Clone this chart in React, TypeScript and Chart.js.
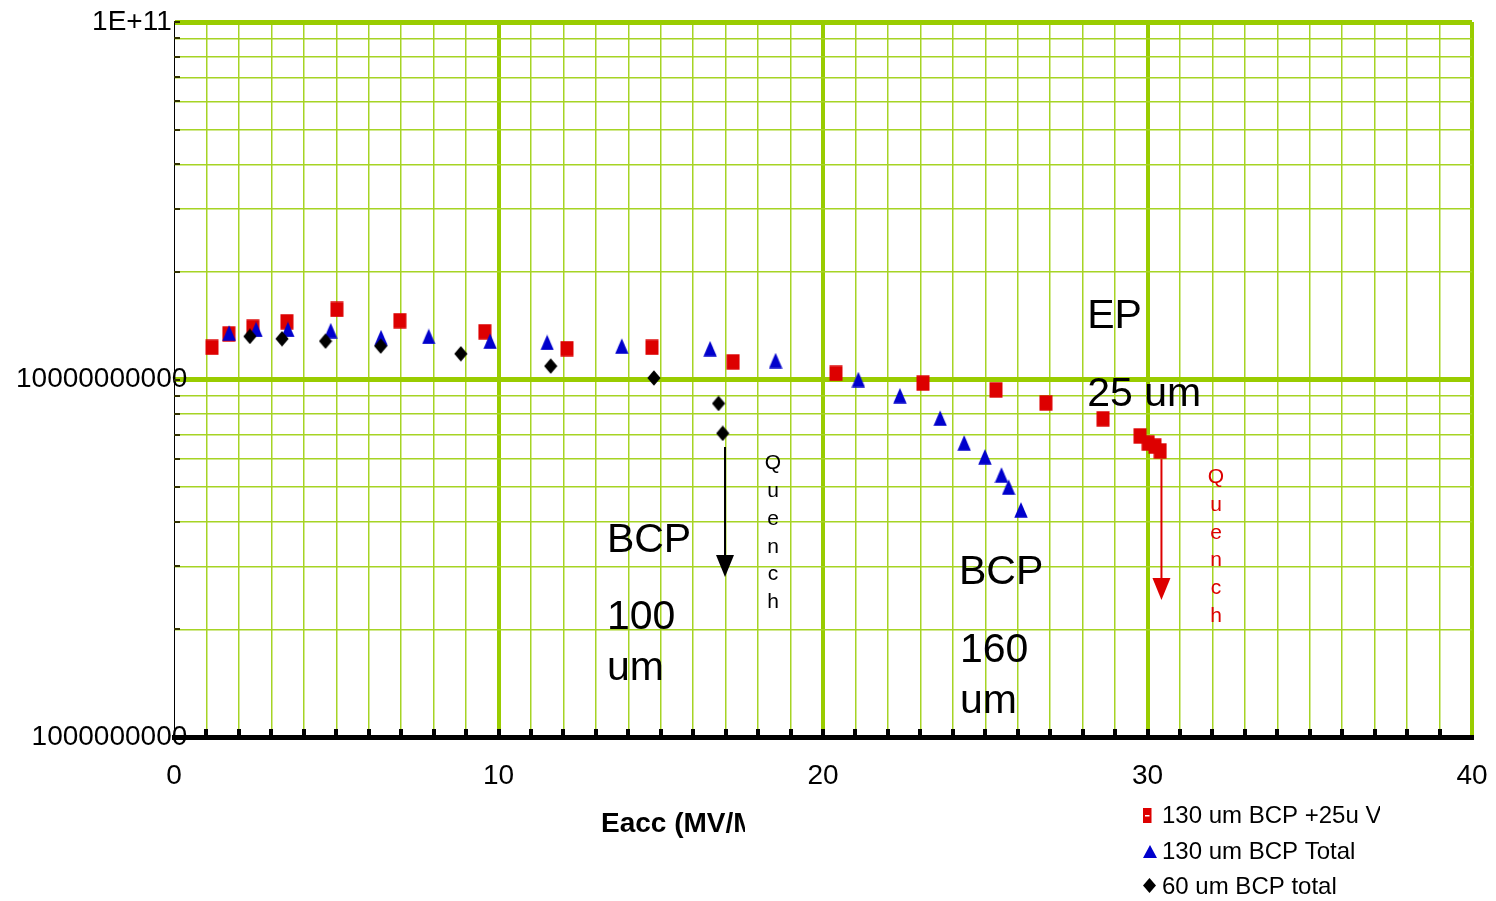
import React, { useEffect, useRef } from 'react';
import { Chart, registerables } from 'chart.js';

Chart.register(...registerables);

const FONT = '"Liberation Sans", Arial, sans-serif';

// Data (Eacc in MV/m, Q0)
const redX = [1.17, 1.69, 2.43, 3.48, 5.02, 6.96, 9.58, 12.11, 14.73, 17.23, 20.40, 23.08, 25.33, 26.87, 28.63, 29.77, 30.02, 30.23, 30.39];
const redY = [1.23e10, 1.34e10, 1.40e10, 1.45e10, 1.57e10, 1.46e10, 1.36e10, 1.22e10, 1.23e10, 1.12e10, 1.04e10, 9.77e9, 9.35e9, 8.60e9, 7.76e9, 6.95e9, 6.64e9, 6.51e9, 6.31e9];
const blueX = [1.70, 2.53, 3.51, 4.83, 6.38, 7.85, 9.74, 11.50, 13.80, 16.52, 18.54, 21.09, 22.37, 23.61, 24.35, 24.99, 25.50, 25.72, 26.10];
const blueY = [1.35e10, 1.38e10, 1.38e10, 1.37e10, 1.31e10, 1.32e10, 1.28e10, 1.27e10, 1.24e10, 1.22e10, 1.13e10, 1.00e10, 9.01e9, 7.80e9, 6.65e9, 6.08e9, 5.41e9, 5.00e9, 4.32e9];
const blackX = [2.34, 3.33, 4.67, 6.37, 8.84, 11.61, 14.79, 16.78, 16.91];
const blackY = [1.32e10, 1.30e10, 1.28e10, 1.24e10, 1.18e10, 1.09e10, 1.01e10, 8.57e9, 7.07e9];

const seriesNames = ['130 um BCP +25u VEP', '130 um BCP Total', '60 um BCP total'];
const xTitle = 'Eacc (MV/M)';
const yMajorValues = [1e11, 1e10, 1e9];
const yMajorLabels = ['1E+11  ', '10000000000', '1000000000'];

const yTickValues: number[] = [];
for (let e = 9; e <= 10; e++) for (let m = 1; m <= 9; m++) yTickValues.push(m * Math.pow(10, e));
yTickValues.push(1e11);

// Annotations in data coordinates
const notes = [
  { text: 'EP', x: 28.14, y: 1.393e10 },
  { text: '25 um', x: 28.14, y: 8.43e9 },
  { text: 'BCP', x: 13.34, y: 3.293e9 },
  { text: '100', x: 13.34, y: 2.005e9 },
  { text: 'um', x: 13.34, y: 1.44e9 },
  { text: 'BCP', x: 24.19, y: 2.68e9 },
  { text: '160', x: 24.22, y: 1.62e9 },
  { text: 'um', x: 24.22, y: 1.167e9 },
];
const quenches = [
  { x: 18.46, y: 5.84e9, color: '#000000' },
  { x: 32.11, y: 5.34e9, color: '#dd0000' },
];
const arrows = [
  { x: 16.98, y0: 6.475e9, y1: 2.804e9, color: '#000000' },
  { x: 30.43, y0: 5.99e9, y1: 2.416e9, color: '#dd0000' },
];

const RED = '#dd0000';
const BLUE = '#0000cc';
const BLACK = '#000000';
const GREEN = '#99cc00';
const GREEN_MINOR = '#a6d424';

const majorLabel = (v: number) => {
  for (let i = 0; i < yMajorValues.length; i++) {
    if (Math.abs(v / yMajorValues[i] - 1) < 1e-6) return yMajorLabels[i];
  }
  return '';
};

function makeMarker(kind: 'square' | 'triangle' | 'diamond', color: string): HTMLCanvasElement {
  const c = document.createElement('canvas');
  c.width = 14;
  c.height = 16;
  const g = c.getContext('2d')!;
  g.fillStyle = color;
  g.beginPath();
  if (kind === 'square') {
    g.rect(0.5, 0.3, 13, 15.4);
  } else if (kind === 'triangle') {
    g.moveTo(7, 0.2);
    g.lineTo(13.7, 15.8);
    g.lineTo(0.3, 15.8);
    g.closePath();
  } else {
    g.moveTo(7, 0.2);
    g.lineTo(13.6, 8);
    g.lineTo(7, 15.8);
    g.lineTo(0.4, 8);
    g.closePath();
  }
  g.fill();
  return c;
}

const overlay = {
  id: 'overlay',
  afterDraw(chart: any) {
    const ctx = chart.ctx as CanvasRenderingContext2D;
    const xs = chart.scales.x;
    const ys = chart.scales.y;
    const { left, bottom } = chart.chartArea;
    ctx.save();
    // inward tick marks
    ctx.fillStyle = '#000';
    for (let v = 1; v < 40; v++) {
      const px = Math.round(xs.getPixelForValue(v));
      ctx.fillRect(px - 2, bottom - 8, 4, 8);
    }
    ctx.fillStyle = '#333300';
    for (const t of yTickValues) {
      if (t === 1e9) continue;
      const py = Math.round(ys.getPixelForValue(t));
      ctx.fillRect(left, py - 1, 6, 2);
    }
    // big annotations
    ctx.fillStyle = '#000';
    ctx.font = `41px ${FONT}`;
    ctx.textAlign = 'left';
    ctx.textBaseline = 'alphabetic';
    for (const n of notes) ctx.fillText(n.text, xs.getPixelForValue(n.x), ys.getPixelForValue(n.y));
    // Quench vertical text
    ctx.font = `21px ${FONT}`;
    ctx.textAlign = 'center';
    ctx.textBaseline = 'middle';
    for (const q of quenches) {
      ctx.fillStyle = q.color;
      const px = xs.getPixelForValue(q.x);
      const py = ys.getPixelForValue(q.y);
      'Quench'.split('').forEach((ch, i) => ctx.fillText(ch, px, py + i * 27.9));
    }
    // arrows
    for (const a of arrows) {
      const px = xs.getPixelForValue(a.x);
      const p0 = ys.getPixelForValue(a.y0);
      const p1 = ys.getPixelForValue(a.y1);
      ctx.strokeStyle = a.color;
      ctx.fillStyle = a.color;
      ctx.lineWidth = 2;
      ctx.beginPath();
      ctx.moveTo(px, p0);
      ctx.lineTo(px, p1 - 20);
      ctx.stroke();
      ctx.beginPath();
      ctx.moveTo(px - 9, p1 - 22);
      ctx.lineTo(px + 9, p1 - 22);
      ctx.lineTo(px, p1);
      ctx.closePath();
      ctx.fill();
    }
    // x axis title (clipped)
    ctx.save();
    ctx.beginPath();
    ctx.rect(0, 790, 745, 60);
    ctx.clip();
    ctx.fillStyle = '#000';
    ctx.font = `bold 28px ${FONT}`;
    ctx.textAlign = 'left';
    ctx.textBaseline = 'alphabetic';
    ctx.fillText(xTitle, 601, 832);
    ctx.restore();
    // legend (clipped)
    ctx.save();
    ctx.beginPath();
    ctx.rect(1120, 790, 260, 111);
    ctx.clip();
    ctx.font = `24px ${FONT}`;
    ctx.textAlign = 'left';
    ctx.textBaseline = 'alphabetic';
    const baselines = [823, 858.5, 894];
    ctx.fillStyle = RED;
    ctx.fillRect(1143, 808, 8.5, 15);
    ctx.fillStyle = '#fff';
    ctx.fillRect(1145, 815, 4.5, 1.5);
    ctx.fillStyle = BLUE;
    ctx.beginPath();
    ctx.moveTo(1150, 845);
    ctx.lineTo(1157, 858);
    ctx.lineTo(1143, 858);
    ctx.closePath();
    ctx.fill();
    ctx.fillStyle = BLACK;
    ctx.beginPath();
    ctx.moveTo(1149.5, 878);
    ctx.lineTo(1156, 885.5);
    ctx.lineTo(1149.5, 893);
    ctx.lineTo(1143, 885.5);
    ctx.closePath();
    ctx.fill();
    ctx.fillStyle = '#000';
    seriesNames.forEach((s, i) => ctx.fillText(s, 1162, baselines[i]));
    ctx.restore();
    ctx.restore();
  },
};

export default function App() {
  const ref = useRef<HTMLCanvasElement>(null);
  useEffect(() => {
    if (!ref.current) return;
    Chart.defaults.font.family = FONT;
    const toPts = (xs: number[], ys: number[]) => xs.map((x, i) => ({ x, y: ys[i] }));
    const chart = new Chart(ref.current, {
      type: 'scatter',
      data: {
        datasets: [
          { label: seriesNames[2], data: toPts(blackX, blackY), pointStyle: makeMarker('diamond', BLACK), pointRadius: 8, backgroundColor: BLACK, borderColor: BLACK },
          { label: seriesNames[1], data: toPts(blueX, blueY), pointStyle: makeMarker('triangle', BLUE), pointRadius: 8, backgroundColor: BLUE, borderColor: BLUE },
          { label: seriesNames[0], data: toPts(redX, redY), pointStyle: makeMarker('square', RED), pointRadius: 8, backgroundColor: RED, borderColor: RED },
        ],
      },
      options: {
        animation: false,
        responsive: true,
        maintainAspectRatio: false,
        layout: { padding: { top: 22, right: 24, left: 0, bottom: 0 } },
        plugins: { legend: { display: false }, tooltip: { enabled: false } },
        scales: {
          x: {
            type: 'linear',
            min: 0,
            max: 40,
            afterFit: (s: any) => { s.height = 164; },
            ticks: {
              stepSize: 1,
              autoSkip: false,
              maxRotation: 0,
              padding: 7,
              color: '#000',
              font: { size: 28 },
              callback: (v: any) => (Number(v) % 10 === 0 ? String(v) : ''),
            },
            grid: {
              drawTicks: true,
              tickLength: 15,
              tickColor: 'rgba(0,0,0,0)',
              color: (c: any) => (c.tick && c.tick.value === 0 ? 'rgba(0,0,0,0)' : (c.tick && c.tick.value % 10 === 0 ? GREEN : GREEN_MINOR)),
              lineWidth: (c: any) => (c.tick && c.tick.value % 10 === 0 ? 4 : 1.5),
            },
            border: { display: true, color: '#000', width: 5 },
          },
          y: {
            type: 'logarithmic',
            min: 1e9,
            max: 1e11,
            afterFit: (s: any) => { s.width = 174; },
            afterBuildTicks: (s: any) => { s.ticks = yTickValues.map((v) => ({ value: v })); },
            ticks: {
              autoSkip: false,
              mirror: true,
              crossAlign: 'far',
              padding: -158,
              color: '#000',
              font: { size: 28 },
              callback: (v: any) => majorLabel(Number(v)),
            },
            grid: {
              drawTicks: false,
              color: (c: any) => {
                const v = c.tick ? c.tick.value : 0;
                if (v === 1e9) return 'rgba(0,0,0,0)';
                return v === 1e10 || v === 1e11 ? GREEN : GREEN_MINOR;
              },
              lineWidth: (c: any) => {
                const v = c.tick ? c.tick.value : 0;
                return v === 1e10 || v === 1e11 ? 5 : 1.5;
              },
            },
            border: { display: true, color: '#000', width: 1 },
          },
        },
      },
      plugins: [overlay],
    });
    return () => chart.destroy();
  }, []);
  return (
    <div style={{ position: 'absolute', left: 0, top: 0, width: 1496, height: 901, overflow: 'hidden', background: '#fff' }}>
      <canvas ref={ref} style={{ display: 'block' }} />
    </div>
  );
}
